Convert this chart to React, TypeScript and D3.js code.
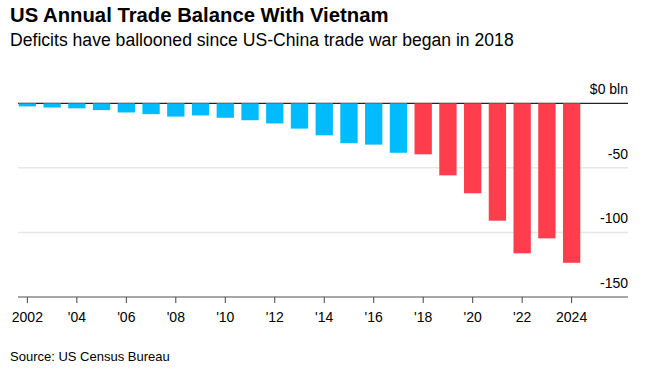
import React, { useEffect, useRef } from 'react';
import * as d3 from 'd3';

const years = d3.range(2002, 2025);
const balance = [
  -2.4, -3.3, -3.9, -5.3, -7.1, -8.4, -10.3, -9.4, -11.2, -13.1, -15.6, -19.6,
  -24.8, -30.9, -32.0, -38.3, -39.5, -55.8, -69.7, -90.9, -116.2, -104.6, -123.5,
];
const yTicks = [0, -50, -100, -150];
const xTickYears = d3.range(2002, 2025, 2);
const tradeWarStart = 2018;

const W = 663;
const H = 373;
const font = "'Liberation Sans', Arial, Helvetica, sans-serif";

const App = () => {
  const svgRef = useRef<SVGSVGElement | null>(null);

  useEffect(() => {
    const svg = d3.select(svgRef.current);
    svg.selectAll('*').remove();

    const gridLeft = 18;
    const gridRight = 628;

    const x = d3.scaleBand<number>()
      .domain(years)
      .range([15, 584])
      .paddingInner(0.3)
      .paddingOuter(0.15);

    const y = d3.scaleLinear().domain([0, -150]).range([103.3, 297]);

    // title block
    svg.append('text')
      .attr('x', 10).attr('y', 22)
      .attr('font-family', font).attr('font-weight', 'bold').attr('font-size', 20.3)
      .attr('fill', '#000')
      .text('US Annual Trade Balance With Vietnam');

    svg.append('text')
      .attr('x', 10).attr('y', 46)
      .attr('font-family', font).attr('font-size', 17.6)
      .attr('fill', '#000')
      .text('Deficits have ballooned since US-China trade war began in 2018');

    // gridlines
    svg.append('g')
      .selectAll('line')
      .data(yTicks.filter(d => d !== 0 && d !== -150))
      .enter()
      .append('line')
      .attr('x1', gridLeft).attr('x2', gridRight)
      .attr('y1', d => y(d)).attr('y2', d => y(d))
      .attr('stroke', '#e6e6e6').attr('stroke-width', 1.5);

    // y labels
    svg.append('g')
      .selectAll('text')
      .data(yTicks)
      .enter()
      .append('text')
      .attr('x', gridRight).attr('y', d => y(d) - 9)
      .attr('text-anchor', 'end')
      .attr('font-family', font).attr('font-size', 14)
      .attr('fill', '#000')
      .text(d => (d === 0 ? '$0 bln' : `-${Math.abs(d)}`));

    // zero line
    svg.append('line')
      .attr('x1', gridLeft).attr('x2', gridRight)
      .attr('y1', y(0)).attr('y2', y(0))
      .attr('stroke', '#222').attr('stroke-width', 1.2);

    // bars
    svg.append('g')
      .selectAll('rect')
      .data(years)
      .enter()
      .append('rect')
      .attr('x', d => x(d)!)
      .attr('y', y(0))
      .attr('width', x.bandwidth())
      .attr('height', (d, i) => y(balance[i]) - y(0))
      .attr('fill', d => (d < tradeWarStart ? '#00bcff' : '#ff3d4d'));

    // bottom axis
    const axisY = y(-150);
    svg.append('line')
      .attr('x1', gridLeft).attr('x2', gridRight)
      .attr('y1', axisY).attr('y2', axisY)
      .attr('stroke', '#888').attr('stroke-width', 1.5);

    const ticks = svg.append('g');
    ticks.selectAll('line')
      .data(xTickYears)
      .enter()
      .append('line')
      .attr('x1', d => x(d)! + x.bandwidth() / 2)
      .attr('x2', d => x(d)! + x.bandwidth() / 2)
      .attr('y1', axisY).attr('y2', axisY + 6)
      .attr('stroke', '#444').attr('stroke-width', 1);

    ticks.selectAll('text')
      .data(xTickYears)
      .enter()
      .append('text')
      .attr('x', d => x(d)! + x.bandwidth() / 2)
      .attr('y', 322)
      .attr('text-anchor', 'middle')
      .attr('font-family', font).attr('font-size', 14)
      .attr('fill', '#000')
      .text(d => (d === 2002 || d === 2024 ? `${d}` : `'${String(d).slice(2)}`));

    // source
    svg.append('text')
      .attr('x', 10).attr('y', 361)
      .attr('font-family', font).attr('font-size', 13)
      .attr('fill', '#000')
      .text('Source: US Census Bureau');
  }, []);

  return (
    <svg
      ref={svgRef}
      width={W}
      height={H}
      style={{ position: 'absolute', left: 0, top: 0, background: '#fff' }}
    />
  );
};

export default App;
